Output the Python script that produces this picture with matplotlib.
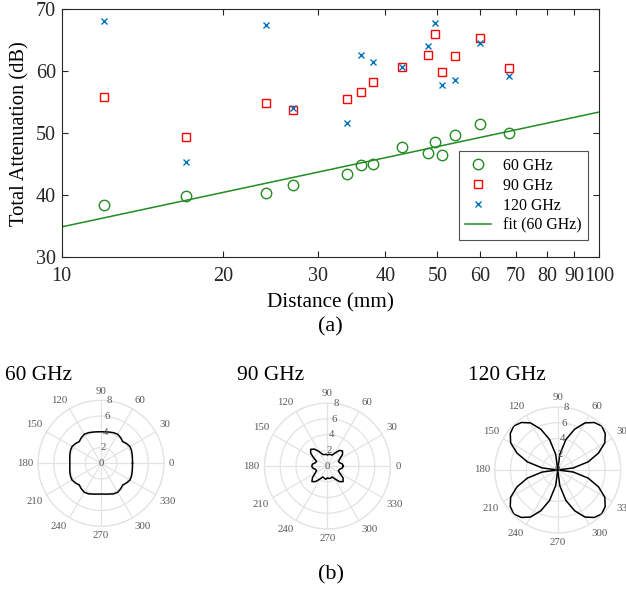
import numpy as np
import matplotlib.pyplot as plt
from matplotlib.ticker import NullLocator

plt.rcParams['font.family'] = ['Liberation Serif', 'DejaVu Serif']

# measured attenuation vs distance
dist_mm = [12, 17, 24, 27, 34, 36, 38, 43, 48, 49.5, 51, 54, 60, 68]
att_60 = [38.5, 39.9, 40.3, 41.6, 43.5, 44.9, 45.1, 47.7, 46.8, 48.6, 46.5, 49.7, 51.4, 50.0]
att_90 = [55.8, 49.4, 54.9, 53.7, 55.5, 56.6, 58.3, 60.7, 62.6, 65.9, 59.9, 62.4, 65.3, 60.5]
att_120 = [68.1, 45.4, 67.5, 54.0, 51.6, 62.6, 61.5, 60.6, 64.1, 67.8, 57.8, 58.6, 64.6, 59.2]
fit_x = [10, 100]
fit_y = [34.9, 53.4]
xtick_vals = [10, 20, 30, 40, 50, 60, 70, 80, 90, 100]

# radiation patterns, every 7.5 deg from 0 to 360
pat_deg = np.arange(0, 360.1, 7.5)
pat_60 = [4.0, 4.03, 4.1, 4.2, 4.25, 4.1, 3.9, 4.1, 4.25, 4.2, 4.1, 4.03,
          4.0, 4.03, 4.1, 4.2, 4.25, 4.1, 3.9, 4.1, 4.25, 4.2, 4.1, 4.0,
          3.95, 4.0, 4.1, 4.2, 4.25, 4.1, 3.9, 4.1, 4.25, 4.2, 4.05, 3.95,
          3.9, 3.95, 4.05, 4.2, 4.25, 4.1, 3.9, 4.1, 4.25, 4.2, 4.1, 4.03,
          4.0]
pat_90 = [2.0, 1.9, 1.6, 1.5, 1.8, 2.4, 2.7, 2.5, 1.9, 1.5, 1.5, 1.5,
          1.4, 1.5, 1.5, 1.6, 2.1, 2.7, 3.0, 2.7, 2.0, 1.5, 1.6, 1.9,
          2.0, 1.9, 1.6, 1.5, 1.8, 2.4, 2.8, 2.5, 1.9, 1.5, 1.6, 1.7,
          1.5, 1.6, 1.6, 1.5, 1.9, 2.5, 2.8, 2.5, 1.8, 1.5, 1.6, 1.9,
          2.0]
pat_120 = [0.0, 2.0, 4.0, 5.6, 6.9, 7.6, 7.9, 7.6, 6.9, 5.6, 4.0, 2.0,
           0.0, 2.0, 4.0, 5.6, 6.9, 7.6, 7.9, 7.6, 6.9, 5.6, 4.0, 2.0,
           0.0, 2.0, 4.0, 5.6, 6.9, 7.6, 7.9, 7.6, 6.9, 5.6, 4.0, 2.0,
           0.0, 2.0, 4.0, 5.6, 6.9, 7.6, 7.9, 7.6, 6.9, 5.6, 4.0, 2.0,
           0.0]

green = '#228B22'

fig = plt.figure(figsize=(6.26, 5.93), dpi=100)

# (a) attenuation
ax = fig.add_axes([0.0986, 0.5661, 0.8583, 0.4187])
ax.plot(dist_mm, att_60, 'o', mfc='none', mec=green, ms=7.5, mew=1.0, label='60 GHz')
ax.plot(dist_mm, att_90, 's', mfc='none', mec='red', ms=5.5, mew=1.0, label='90 GHz')
ax.plot(dist_mm, att_120, 'x', color='#0072BD', ms=4.5, mew=1.0, label='120 GHz')
ax.plot(fit_x, fit_y, '-', color=green, lw=1.1, label='fit (60 GHz)')
ax.set_xscale('log')
ax.set_xlim(10, 100)
ax.set_ylim(30, 70)
ax.set_xticks(xtick_vals)
ax.set_xticklabels([str(v) for v in xtick_vals])
ax.xaxis.set_minor_locator(NullLocator())
ax.set_yticks([30, 40, 50, 60, 70])
ax.tick_params(direction='in', top=True, right=True, length=4, width=0.8,
               labelsize=14.5, colors='#262626')
ax.tick_params(axis='x', pad=7)
ax.tick_params(axis='y', pad=4)
for s in ax.spines.values():
    s.set_color('#262626')
    s.set_linewidth(0.8)
ax.set_xlabel('Distance (mm)', fontsize=15.3, labelpad=5.5)
ax.set_ylabel('Total Attenuation (dB)', fontsize=14.8, labelpad=5)
leg = ax.legend(loc='lower right', bbox_to_anchor=(0.98, 0.07), fontsize=11.4,
                frameon=True, fancybox=False, edgecolor='#262626',
                handlelength=1.6, borderpad=0.4, labelspacing=0.25,
                borderaxespad=0)
leg.get_frame().set_linewidth(0.8)
fig.text(0.5284, 0.4494, '(a)', fontsize=16, ha='center', va='center')

# (b) polar patterns
polar_rects = [[0.0607, 0.1125, 0.2013, 0.2125],
               [0.4225, 0.1079, 0.2013, 0.2125],
               [0.7903, 0.1012, 0.2013, 0.2125]]
titles = ['60 GHz', '90 GHz', '120 GHz']
title_x = [0.008, 0.378, 0.747]
patterns = [pat_60, pat_90, pat_120]
theta = np.deg2rad(pat_deg)
gray = '#e3e3e3'
lab = '#5a5a5a'

for rect, ttl, tx, pat in zip(polar_rects, titles, title_x, patterns):
    pa = fig.add_axes(rect, projection='polar')
    pa.plot(theta, pat, color='black', lw=1.1)
    pa.set_ylim(0, 8)
    pa.set_yticks([2, 4, 6, 8])
    pa.set_yticklabels([])
    pa.set_xticks(np.deg2rad(np.arange(0, 360, 30)))
    pa.set_xticklabels([])
    pa.grid(color=gray, lw=0.9)
    pa.spines['polar'].set_color(gray)
    pa.spines['polar'].set_linewidth(0.9)
    for a in range(0, 360, 30):
        c, s = np.cos(np.deg2rad(a)), np.sin(np.deg2rad(a))
        ha = 'left' if c > 0.1 else ('right' if c < -0.1 else 'center')
        va = 'bottom' if s > 0.1 else ('top' if s < -0.1 else 'center')
        pa.text(np.deg2rad(a), 8.6, str(a), ha=ha, va=va, fontsize=7.8,
                color=lab, clip_on=False)
    for r in [0, 2, 4, 6, 8]:
        pa.text(np.deg2rad(82), r, str(r), ha='center', va='center',
                fontsize=7.8, color=lab)
    fig.text(tx, 0.3592, ttl, fontsize=15.4, ha='left', va='baseline')

fig.text(0.529, 0.0304, '(b)', fontsize=16, ha='center', va='center')

fig.savefig('out.png', dpi=100)
